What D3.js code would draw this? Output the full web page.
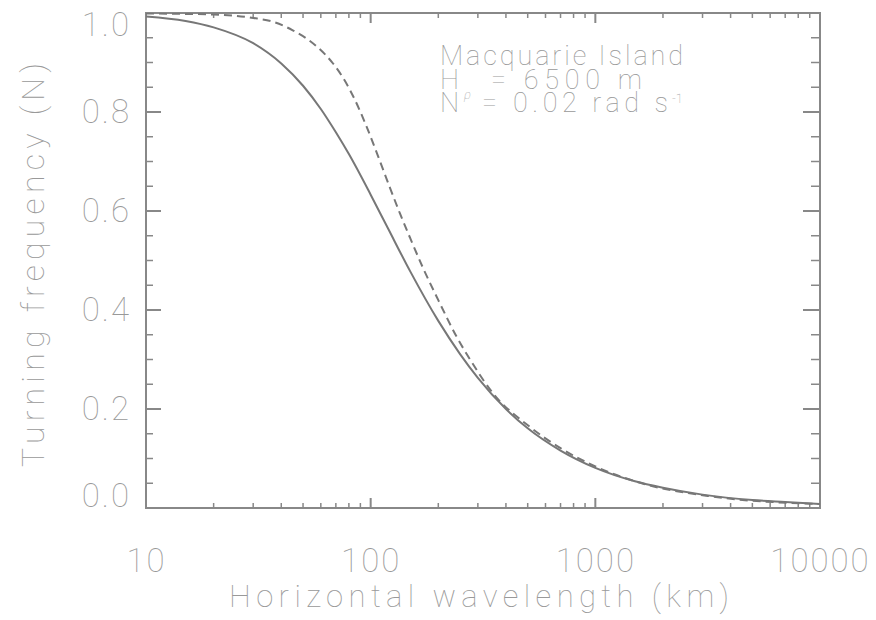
<!DOCTYPE html>
<html>
<head>
<meta charset="utf-8">
<script src="https://cdn.jsdelivr.net/npm/d3@7"></script>
<style>
    body { margin: 0; background: #fff; }
    svg text { font-family: "Roboto", "DejaVu Sans", sans-serif; font-weight: 100; fill: #999; }
</style>
</head>
<body>
<svg id="drawing_region"></svg>
<script>
// wavelengths (km) and turning frequency (in units of N)
var solid_lambda = [10, 15, 20, 30, 40, 50, 60, 70, 80, 100, 120, 150, 200, 250, 300, 400, 500, 700, 1000, 1500, 2000, 3000, 5000, 7000, 10000];
var solid_freq   = [0.993, 0.984, 0.971, 0.939, 0.898, 0.853, 0.806, 0.759, 0.715, 0.633, 0.563, 0.478, 0.378, 0.311, 0.263, 0.2, 0.161, 0.116, 0.081, 0.054, 0.041, 0.027, 0.016, 0.012, 0.008];

var dashed_lambda = [10, 20, 30, 37, 45, 52, 59, 68, 77, 85, 96, 107, 120, 135, 150, 171, 200, 242, 277, 350, 511, 700, 1000, 1698, 3335, 10000];
var dashed_freq   = [0.999, 0.997, 0.99, 0.982, 0.965, 0.948, 0.928, 0.898, 0.862, 0.825, 0.77, 0.715, 0.655, 0.595, 0.545, 0.485, 0.42, 0.345, 0.3, 0.232, 0.164, 0.121, 0.084, 0.047, 0.023, 0.008];

var x_ticks = [10, 100, 1000, 10000];
var x_tick_labels = ['10', '100', '1000', '10000'];
var y_ticks = [0, 0.2, 0.4, 0.6, 0.8, 1.0];
var y_tick_labels = ['0.0', '0.2', '0.4', '0.6', '0.8', '1.0'];

var x_title = 'Horizontal wavelength (km)';
var y_title = 'Turning frequency (N)';

class LineChart {
    constructor(selector, width, height, margin) {
        this.selector = selector;
        this.width = width;
        this.height = height;
        this.margin = margin;

        this.svg = d3.select(this.selector)
            .attr('width', this.width)
            .attr('height', this.height);

        this.chart = this.svg.append('g')
            .attr('transform', `translate(${this.margin.left}, ${this.margin.top})`);

        this.inner_width = this.width - this.margin.left - this.margin.right;
        this.inner_height = this.height - this.margin.top - this.margin.bottom;
    }

    initializeScales() {
        this.xscale = d3.scaleLog()
            .domain([10, 10000])
            .range([0, this.inner_width]);

        this.yscale = d3.scaleLinear()
            .domain([0, 1])
            .range([this.inner_height, 0]);
    }

    drawAxes() {
        var w = this.inner_width, h = this.inner_height;

        // labels and frame from d3 axes, tick marks drawn inward below
        var xaxis = d3.axisBottom(this.xscale).tickValues(x_ticks).tickSize(0).tickPadding(41)
            .tickFormat((d, i) => x_tick_labels[i]);
        var yaxis = d3.axisLeft(this.yscale).tickValues(y_ticks).tickSize(0).tickPadding(15)
            .tickFormat((d, i) => y_tick_labels[i]);

        var gx = this.chart.append('g').attr('transform', `translate(0, ${h})`).call(xaxis);
        var gy = this.chart.append('g').call(yaxis);
        [gx, gy].forEach(g => {
            g.select('.domain').remove();
            g.selectAll('text').attr('fill', '#999').style('font-size', '33px').style('letter-spacing', '2px');
        });

        // end labels on y sit just inside the frame
        gy.selectAll('.tick text').filter(d => d === 0).attr('dy', '-0.05em');
        gy.selectAll('.tick text').filter(d => d === 1).attr('dy', '0.68em');

        this.chart.append('rect')
            .attr('width', w).attr('height', h)
            .attr('fill', 'none').attr('stroke', '#888').attr('stroke-width', 2);

        // minor ticks: 2..9 in each decade, every 0.05 on y
        var x_minor = [];
        for (var d = 10; d < 10000; d *= 10)
            for (var k = 2; k < 10; k++) x_minor.push(d * k);
        var y_minor = d3.range(1, 20).filter(i => i % 4 !== 0).map(i => i * 0.05);

        var xt = x_ticks.map(v => ({v: v, len: 10})).concat(x_minor.map(v => ({v: v, len: 5})));
        var yt = y_ticks.map(v => ({v: v, len: 15})).concat(y_minor.map(v => ({v: v, len: 7})));

        var ticks = this.chart.append('g').attr('stroke', '#888');
        ticks.selectAll('.xb').data(xt).join('line')
            .attr('x1', t => this.xscale(t.v)).attr('x2', t => this.xscale(t.v))
            .attr('y1', h).attr('y2', t => h - t.len)
            .attr('stroke-width', t => t.len > 6 ? 2 : 1.5);
        ticks.selectAll('.xt').data(xt).join('line')
            .attr('x1', t => this.xscale(t.v)).attr('x2', t => this.xscale(t.v))
            .attr('y1', 0).attr('y2', t => t.len)
            .attr('stroke-width', t => t.len > 6 ? 2 : 1.5);
        ticks.selectAll('.yl').data(yt).join('line')
            .attr('y1', t => this.yscale(t.v)).attr('y2', t => this.yscale(t.v))
            .attr('x1', 0).attr('x2', t => t.len)
            .attr('stroke-width', t => t.len > 8 ? 2 : 1.5);
        ticks.selectAll('.yr').data(yt).join('line')
            .attr('y1', t => this.yscale(t.v)).attr('y2', t => this.yscale(t.v))
            .attr('x1', w).attr('x2', t => w - t.len - 2)
            .attr('stroke-width', t => t.len > 8 ? 2 : 1.5);

        this.chart.append('text')
            .attr('x', w / 2 - 4)
            .attr('y', h + 99)
            .attr('text-anchor', 'middle')
            .attr('textLength', 500)
            .attr('lengthAdjust', 'spacing')
            .style('font-size', '31px')
            .text(x_title);

        this.chart.append('text')
            .attr('transform', `translate(${44 - this.margin.left}, ${265 - this.margin.top}) rotate(-90)`)
            .attr('text-anchor', 'middle')
            .attr('textLength', 404)
            .attr('lengthAdjust', 'spacing')
            .style('font-size', '32px')
            .text(y_title);
    }

    drawLines() {
        this.chart.append('clipPath').attr('id', 'plot-clip')
            .append('rect').attr('width', this.inner_width).attr('height', this.inner_height);

        var line = d3.line()
            .x(d => this.xscale(d[0]))
            .y(d => this.yscale(d[1]))
            .curve(d3.curveMonotoneX);

        this.chart.append('path')
            .datum(d3.zip(solid_lambda, solid_freq))
            .attr('clip-path', 'url(#plot-clip)')
            .attr('fill', 'none')
            .attr('stroke', '#777')
            .attr('stroke-width', 2)
            .attr('d', line);

        this.chart.append('path')
            .datum(d3.zip(dashed_lambda, dashed_freq))
            .attr('clip-path', 'url(#plot-clip)')
            .attr('fill', 'none')
            .attr('stroke', '#777')
            .attr('stroke-width', 2)
            .attr('stroke-dasharray', '8,5')
            .attr('d', line);
    }

    drawNote() {
        var note = this.svg.append('g').style('font-size', '27px');
        note.append('text').attr('x', 440).attr('y', 65).attr('textLength', 243).attr('lengthAdjust', 'spacing').text('Macquarie Island');

        note.append('text').attr('x', 440).attr('y', 89).text('H');
        note.append('text').attr('x', 464).attr('y', 99).style('font-size', '13px').style('font-style', 'italic').text('ρ');
        note.append('text').attr('x', 491).attr('y', 89).attr('textLength', 151).attr('lengthAdjust', 'spacing').text('= 6500 m');

        note.append('text').attr('x', 440).attr('y', 112).text('N');
        note.append('text').attr('x', 482).attr('y', 112).text('=');
        note.append('text').attr('x', 513).attr('y', 112).attr('textLength', 155).attr('lengthAdjust', 'spacing').text('0.02 rad s');
        note.append('text').attr('x', 672).attr('y', 103).style('font-size', '13px').text('-1');
    }

    render() {
        this.initializeScales();
        this.drawAxes();
        this.drawLines();
        this.drawNote();
    }
}

var width = 876;
var height = 620;
var margin = {top: 13, right: 56, bottom: 112, left: 146};

var chart = new LineChart('#drawing_region', width, height, margin);
chart.render();
</script>
</body>
</html>
